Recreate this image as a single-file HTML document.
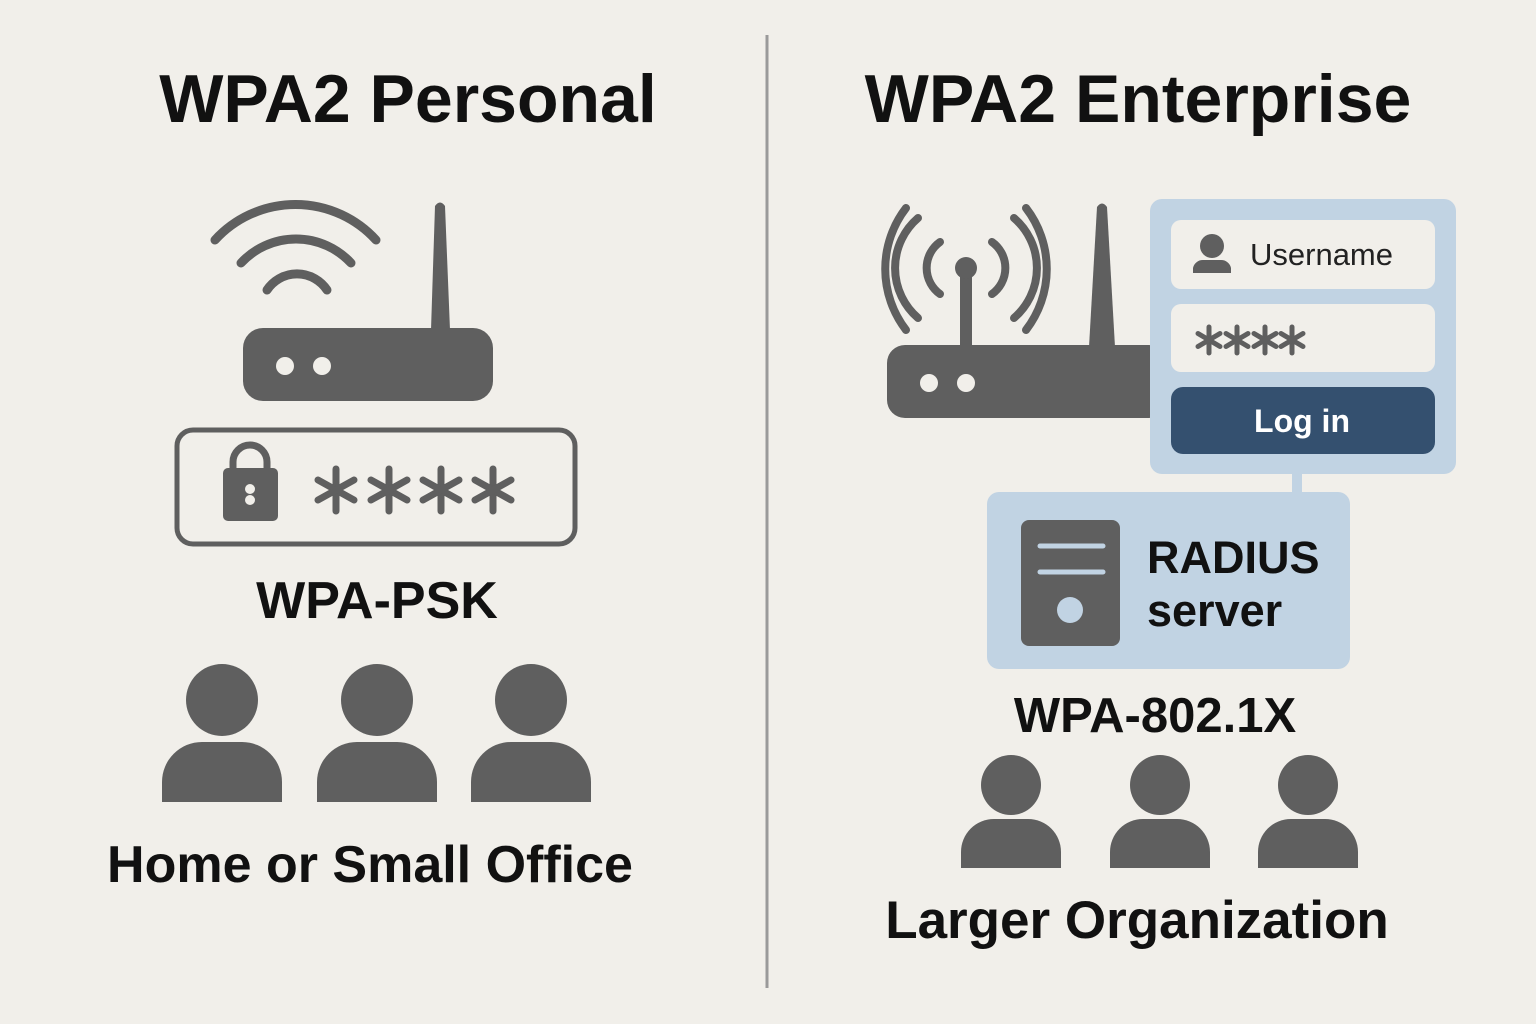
<!DOCTYPE html>
<html><head><meta charset="utf-8"><style>
html,body{margin:0;padding:0;background:#f1efea;}
svg{display:block}
text{font-family:"Liberation Sans","DejaVu Sans",sans-serif;}
</style></head><body>
<svg width="1536" height="1024" viewBox="0 0 1536 1024" xmlns="http://www.w3.org/2000/svg">
<defs>
<g id="ast"><g stroke="#5f5f5f" stroke-width="7" stroke-linecap="round">
<line x1="0" y1="-21" x2="0" y2="21"/><line x1="-18" y1="-10" x2="18" y2="10"/><line x1="-18" y1="10" x2="18" y2="-10"/></g></g>
<g id="asts"><g stroke="#5f5f5f" stroke-width="5" stroke-linecap="round">
<line x1="0" y1="-13" x2="0" y2="13"/><line x1="-11" y1="-6.5" x2="11" y2="6.5"/><line x1="-11" y1="6.5" x2="11" y2="-6.5"/></g></g>
</defs>
<rect width="1536" height="1024" fill="#f1efea"/>
<line x1="767" y1="35" x2="767" y2="988" stroke="#9a9a9a" stroke-width="3"/>

<text x="408" y="122" font-size="68" font-weight="bold" text-anchor="middle" fill="#111">WPA2 Personal</text>
<text x="1138" y="122" font-size="68" font-weight="bold" text-anchor="middle" fill="#111">WPA2 Enterprise</text>

<!-- left router -->
<g fill="none" stroke="#5f5f5f" stroke-width="9" stroke-linecap="round">
<path d="M215 240 A109 109 0 0 1 376 240"/>
<path d="M241 263 A75 75 0 0 1 351 263"/>
<path d="M267 290 A36 36 0 0 1 327 290"/>
</g>
<path d="M431 330 L435 206 Q440 199 445 206 L450 330 Z" fill="#5f5f5f"/>
<rect x="243" y="328" width="250" height="73" rx="20" fill="#5f5f5f"/>
<circle cx="285" cy="366" r="9" fill="#f1efea"/>
<circle cx="322" cy="366" r="9" fill="#f1efea"/>

<rect x="177" y="430" width="398" height="114" rx="16" fill="none" stroke="#5f5f5f" stroke-width="5"/>
<path d="M233 469 V462 A17 17 0 0 1 267 462 V469" fill="none" stroke="#5f5f5f" stroke-width="7"/>
<rect x="223" y="468" width="55" height="53" rx="5" fill="#5f5f5f"/>
<circle cx="250" cy="489" r="5" fill="#f1efea"/><circle cx="250" cy="500" r="5" fill="#f1efea"/>
<use href="#ast" x="336" y="490"/><use href="#ast" x="389" y="490"/><use href="#ast" x="441" y="490"/><use href="#ast" x="493" y="490"/>

<text x="377" y="618" font-size="52" font-weight="bold" text-anchor="middle" fill="#111">WPA-PSK</text>

<g fill="#5f5f5f">
<circle cx="222" cy="700" r="36"/><path d="M162 802 V782 A40 40 0 0 1 202 742 H242 A40 40 0 0 1 282 782 V802 Z"/>
<circle cx="377" cy="700" r="36"/><path d="M317 802 V782 A40 40 0 0 1 357 742 H397 A40 40 0 0 1 437 782 V802 Z"/>
<circle cx="531" cy="700" r="36"/><path d="M471 802 V782 A40 40 0 0 1 511 742 H551 A40 40 0 0 1 591 782 V802 Z"/>
</g>
<text x="370" y="882" font-size="52" font-weight="bold" text-anchor="middle" fill="#111">Home or Small Office</text>

<!-- right router -->
<g fill="none" stroke="#5f5f5f" stroke-width="8" stroke-linecap="round">
<path d="M940 242 A32 32 0 0 0 940 294"/>
<path d="M992 242 A32 32 0 0 1 992 294"/>
<path d="M918 218 A66 66 0 0 0 918 318"/>
<path d="M1014 218 A66 66 0 0 1 1014 318"/>
<path d="M906 208 A100 100 0 0 0 906 330"/>
<path d="M1026 208 A100 100 0 0 1 1026 330"/>
</g>
<rect x="960" y="268" width="12" height="80" fill="#5f5f5f"/>
<circle cx="966" cy="268" r="11" fill="#5f5f5f"/>
<path d="M1089 347 L1097 207 Q1102 200 1107 207 L1115 347 Z" fill="#5f5f5f"/>
<rect x="887" y="345" width="280" height="73" rx="18" fill="#5f5f5f"/>
<circle cx="929" cy="383" r="9" fill="#f1efea"/>
<circle cx="966" cy="383" r="9" fill="#f1efea"/>

<rect x="1150" y="199" width="306" height="275" rx="12" fill="#c1d3e3"/>
<rect x="1171" y="220" width="264" height="69" rx="10" fill="#f1efea"/>
<circle cx="1212" cy="246" r="12" fill="#5f5f5f"/>
<path d="M1193 273 V268 A10 10 0 0 1 1203 260 H1221 A10 10 0 0 1 1231 268 V273 Z" fill="#5f5f5f"/>
<text x="1250" y="265" font-size="31" fill="#222">Username</text>
<rect x="1171" y="304" width="264" height="68" rx="10" fill="#f1efea"/>
<use href="#asts" x="1209" y="340"/><use href="#asts" x="1237" y="340"/><use href="#asts" x="1265" y="340"/><use href="#asts" x="1292" y="340"/>
<rect x="1171" y="387" width="264" height="67" rx="12" fill="#34506f"/>
<text x="1302" y="432" font-size="32" font-weight="bold" text-anchor="middle" fill="#fff">Log in</text>
<rect x="1292" y="470" width="10" height="26" fill="#c1d3e3"/>

<rect x="987" y="492" width="363" height="177" rx="12" fill="#c1d3e3"/>
<rect x="1021" y="520" width="99" height="126" rx="8" fill="#5f5f5f"/>
<line x1="1040" y1="546" x2="1103" y2="546" stroke="#c1d3e3" stroke-width="5" stroke-linecap="round"/>
<line x1="1040" y1="572" x2="1103" y2="572" stroke="#c1d3e3" stroke-width="5" stroke-linecap="round"/>
<circle cx="1070" cy="610" r="13" fill="#c1d3e3"/>
<text x="1147" y="573" font-size="45" font-weight="bold" fill="#111">RADIUS</text>
<text x="1147" y="626" font-size="45" font-weight="bold" fill="#111">server</text>

<text x="1155" y="732" font-size="49" font-weight="bold" text-anchor="middle" fill="#111">WPA-802.1X</text>
<g fill="#5f5f5f">
<circle cx="1011" cy="785" r="30"/><path d="M961 868 V852 A33 33 0 0 1 994 819 H1028 A33 33 0 0 1 1061 852 V868 Z"/>
<circle cx="1160" cy="785" r="30"/><path d="M1110 868 V852 A33 33 0 0 1 1143 819 H1177 A33 33 0 0 1 1210 852 V868 Z"/>
<circle cx="1308" cy="785" r="30"/><path d="M1258 868 V852 A33 33 0 0 1 1291 819 H1325 A33 33 0 0 1 1358 852 V868 Z"/>
</g>
<text x="1137" y="938" font-size="53" font-weight="bold" text-anchor="middle" fill="#111">Larger Organization</text>
</svg>
</body></html>
